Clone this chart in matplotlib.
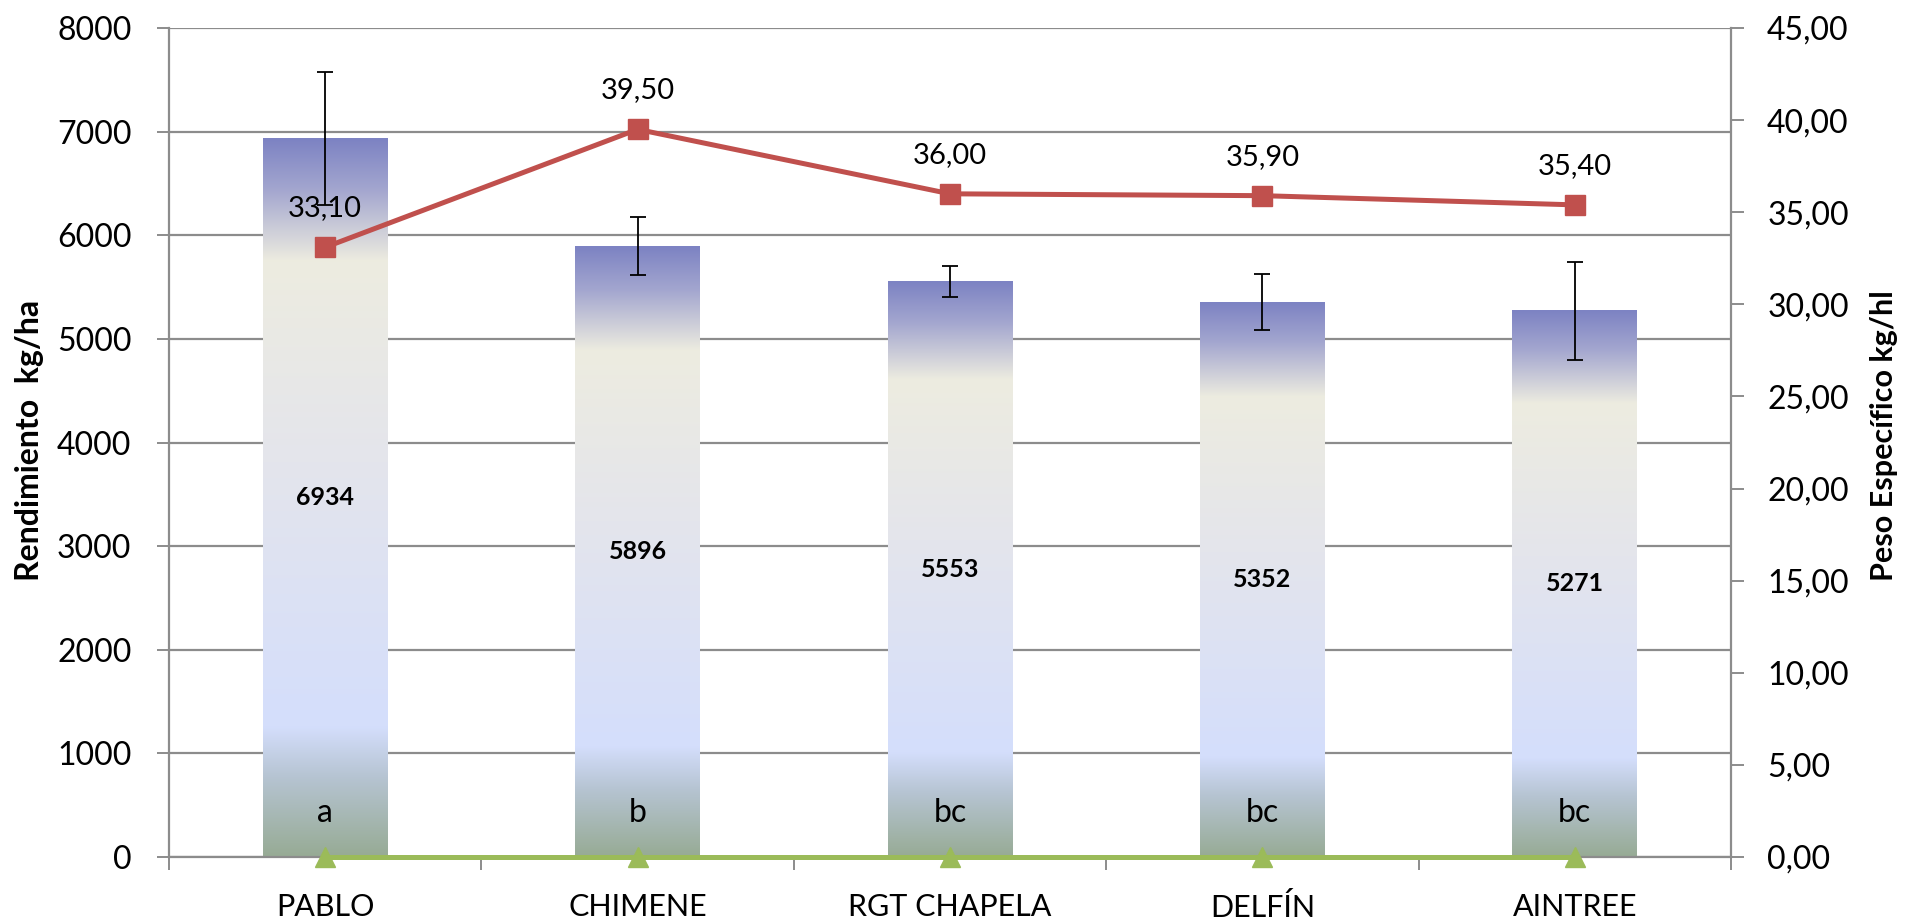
import numpy as np
import matplotlib.pyplot as plt
from matplotlib.colors import LinearSegmentedColormap
from matplotlib.ticker import FixedLocator, FuncFormatter

plt.rcParams['font.family'] = ['Lato', 'DejaVu Sans']

variedades = ['PABLO', 'CHIMENE', 'RGT CHAPELA', 'DELFÍN', 'AINTREE']
rendimiento = [6934, 5896, 5553, 5352, 5271]
error_rend = [640, 280, 150, 270, 470]
letras = ['a', 'b', 'bc', 'bc', 'bc']
peso_especifico = [33.10, 39.50, 36.00, 35.90, 35.40]
serie_cero = [0, 0, 0, 0, 0]

gris = '#8c8c8c'
rojo = '#c0504d'
verde = '#9bbb59'

# degradado de las barras (arriba -> abajo)
degradado = LinearSegmentedColormap.from_list('barra', [
    (0.00, '#7d83c3'),
    (0.07, '#a3a6cf'),
    (0.17, '#edece0'),
    (0.45, '#e4e5ec'),
    (0.82, '#d4defc'),
    (0.89, '#b6c4d2'),
    (1.00, '#97ab95'),
])

fig = plt.figure(figsize=(19.05, 9.22), dpi=100)
ax1 = fig.add_axes([0.0887, 0.0705, 0.82, 0.8991])
ax2 = ax1.twinx()

x = np.arange(len(variedades))
ancho = 0.40

barras = ax1.bar(x, rendimiento, width=ancho, color='none', zorder=2)
grad = np.linspace(0, 1, 256).reshape(-1, 1)
for b in barras:
    x0, w, h = b.get_x(), b.get_width(), b.get_height()
    ax1.imshow(grad, cmap=degradado, aspect='auto', origin='upper',
               extent=[x0, x0 + w, 0, h], zorder=2, interpolation='bilinear')

ax1.errorbar(x, rendimiento, yerr=error_rend, fmt='none', ecolor='black',
             elinewidth=1.3, capsize=5.5, capthick=1.3, zorder=3)

for xi, v in zip(x, rendimiento):
    ax1.text(xi, v / 2, str(v), ha='center', va='center', fontsize=18,
             fontweight='bold', zorder=4)
for xi, l in zip(x, letras):
    ax1.text(xi, 420, l, ha='center', va='center', fontsize=23, zorder=4)

ax1.set_xlim(-0.5, len(variedades) - 0.5)
ax1.set_ylim(0, 8000)
ax1.set_yticks(np.arange(0, 8001, 1000))
ax1.set_axisbelow(True)
ax1.yaxis.grid(True, color=gris, linewidth=1.6)
ax1.set_xticks(x)
ax1.set_xticklabels(variedades, fontsize=22)
ax1.xaxis.set_minor_locator(FixedLocator(np.arange(-0.5, len(variedades), 1.0)))
ax1.tick_params(axis='x', which='major', length=0, pad=26)
ax1.tick_params(axis='x', which='minor', length=9, width=1.4, color=gris, direction='out')
ax1.tick_params(axis='y', length=9, width=1.4, color=gris, direction='out',
                labelsize=23, pad=18)

# serie de peso especifico en el eje secundario
ax2.plot(x, serie_cero, color=verde, linewidth=3.6, marker='^', markersize=15,
         clip_on=False, zorder=5)
ax2.plot(x, peso_especifico, color=rojo, linewidth=3.6, marker='s', markersize=14,
         zorder=6)
for xi, p in zip(x, peso_especifico):
    ax2.annotate(f'{p:.2f}'.replace('.', ','), (xi, p), xytext=(0, 28),
                 textcoords='offset points', ha='center', va='center', fontsize=21)

ax2.set_ylim(0, 45)
ax2.set_yticks(np.arange(0, 46, 5))
ax2.yaxis.set_major_formatter(FuncFormatter(lambda v, p: f'{v:.2f}'.replace('.', ',')))
ax2.tick_params(axis='y', length=9, width=1.4, color=gris, direction='out',
                labelsize=23, pad=17)

for ax in (ax1, ax2):
    for s in ax.spines.values():
        s.set_visible(False)
ax1.spines['left'].set_visible(True)
ax1.spines['left'].set_color(gris)
ax1.spines['left'].set_linewidth(1.6)
ax1.spines['bottom'].set_visible(True)
ax1.spines['bottom'].set_color(gris)
ax1.spines['bottom'].set_linewidth(1.6)
ax2.spines['right'].set_visible(True)
ax2.spines['right'].set_color(gris)
ax2.spines['right'].set_linewidth(1.6)

fuente_titulo = ['Liberation Sans Narrow', 'Lato', 'DejaVu Sans']
fig.text(0.0157, 0.522, 'Rendimiento  kg/ha', rotation=90, ha='center', va='center',
         fontsize=23, fontweight='bold', family=fuente_titulo)
fig.text(0.989, 0.528, 'Peso Específico kg/hl', rotation=90, ha='center', va='center',
         fontsize=22, fontweight='bold', family=fuente_titulo)

fig.savefig('out.png', dpi=100)
